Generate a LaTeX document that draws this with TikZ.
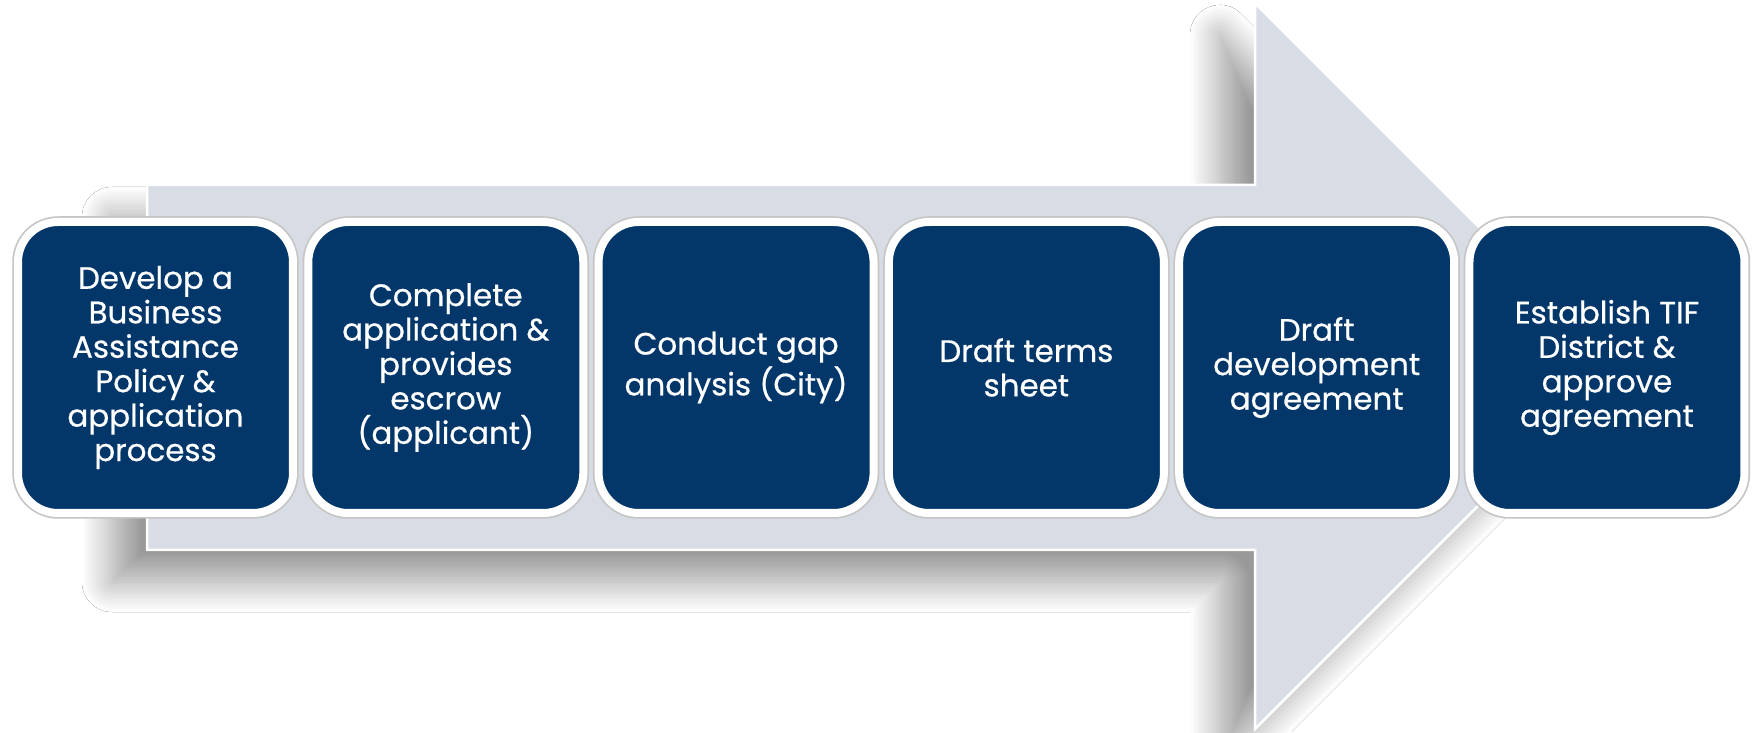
\documentclass[tikz,border=0pt]{standalone}
\usepackage{fontspec}
\setmainfont{Poppins}[FakeBold=0.6]
\usetikzlibrary{positioning,shadows.blur}
\definecolor{navy}{RGB}{3,55,106}
\definecolor{arrowgray}{RGB}{216,220,228}

\begin{document}
\begin{tikzpicture}[x=0.1mm,y=0.1mm]
   \tikzstyle{stage}=[draw=white, line width=0.8mm, fill=navy, rounded corners=4mm, minimum width=27.5mm, minimum height=29.1mm, outer sep=0pt, inner sep=0pt, text=white, align=center, font=\fontsize{8.8}{9.8}\selectfont, preaction={draw=gray!45, line width=1.15mm}]
   \tikzstyle{bigarrow}=[fill=arrowgray, draw=white, line width=0.25mm, blur shadow={shadow xshift=-3.5mm, shadow yshift=-3.2mm, shadow blur radius=3mm, shadow blur steps=24, shadow opacity=40}]

\useasboundingbox (0,0) rectangle (1758,732);
\fill[white] (0,0) rectangle (1758,732);
\draw[bigarrow] (147,182) -- (147,547) -- (1255,547) -- (1255,729) -- (1618,366) -- (1255,3) -- (1255,182) -- cycle;

\node[stage] (p1) at (155.5,364.5) {Develop a\\Business\\Assistance\\Policy \&\\application\\process};
\node[stage, right=1.53mm of p1] (p2) {Complete\\application \&\\provides\\escrow\\(applicant)};
\node[stage, right=1.53mm of p2] (p3) {Conduct gap\\analysis (City)};
\node[stage, right=1.53mm of p3] (p4) {Draft terms\\sheet};
\node[stage, right=1.53mm of p4] (p5) {Draft\\development\\agreement};
\node[stage, right=1.53mm of p5] (p6) {Establish TIF\\District \&\\approve\\agreement};

\end{tikzpicture}
\end{document}
